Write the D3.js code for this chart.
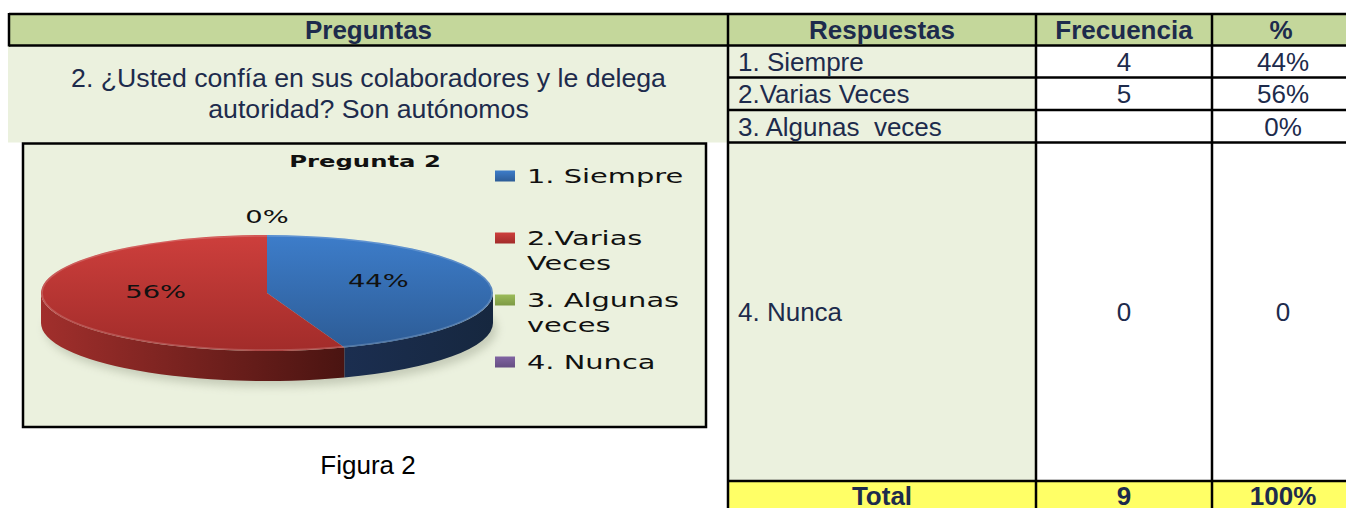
<!DOCTYPE html>
<html lang="es">
<head>
    <meta charset="UTF-8">
    <title>Pregunta 2</title>
    <script src="https://d3js.org/d3.v7.min.js"></script>
    <style>
        body { margin: 0; padding: 0; background: #fff; }
        svg { display: block; }
        .tbl { font-family: "Liberation Sans", Arial, sans-serif; font-size: 26px; fill: #1d2b4c; white-space: pre; }
        .bold { font-weight: bold; }
        .chart-text { font-family: "DejaVu Sans", Verdana, sans-serif; fill: #111; }
    </style>
</head>
<body>
    <div id="chart"></div>

    <script>
        // ---- data ----
        const preguntaLines = ["2. ¿Usted confía en sus colaboradores y le delega", "autoridad? Son autónomos"];
        const headers = ["Respuestas", "Frecuencia", "%"];
        const respuestas = ["1. Siempre", "2.Varias Veces", "3. Algunas  veces", "4. Nunca"];
        const frecuencia = ["4", "5", "", "0"];
        const porcentaje = ["44%", "56%", "0%", "0"];
        const totalRow = ["Total", "9", "100%"];
        const pieValues = [4, 5, 0, 0];
        const legendLabels = [["1. Siempre"], ["2.Varias", "Veces"], ["3. Algunas", "veces"], ["4. Nunca"]];
        const chartTitle = "Pregunta 2";
        const figureCaption = "Figura 2";

        // colours
        const topColors = [["#3d7dca", "#2d5c96"], ["#cd3f3c", "#a22c2a"], ["#9bbb59", "#7d9a44"], ["#8064a2", "#654e82"]];
        const sideColors = [["#1b2e50", "#16273f"], ["#a12f2c", "#4a1411"], ["#6f8a3c", "#56702c"], ["#5a4676", "#45365c"]];

        const W = 1346, H = 508;
        const lw = 2.5;

        const svg = d3.select("#chart").append("svg")
            .attr("width", W)
            .attr("height", H);
        const defs = svg.append("defs");

        // ---- table layout ----
        const colEdges = [728, 1036, 1212, 1350];
        const rowEdges = [14, 45.5, 77.5, 110, 142.5, 481, 512];
        const leftX = 9;
        const colMid = i => (colEdges[i] + colEdges[i + 1]) / 2;
        const rowMid = i => (rowEdges[i] + rowEdges[i + 1]) / 2;

        // backgrounds
        svg.append("rect").attr("x", leftX).attr("y", rowEdges[0])
            .attr("width", W - leftX).attr("height", rowEdges[1] - rowEdges[0]).attr("fill", "#c4d79b");
        svg.append("rect").attr("x", 8).attr("y", rowEdges[1])
            .attr("width", colEdges[0] - 8).attr("height", rowEdges[4] - rowEdges[1]).attr("fill", "#ebf1de");
        svg.append("rect").attr("x", colEdges[0]).attr("y", rowEdges[1])
            .attr("width", colEdges[1] - colEdges[0]).attr("height", rowEdges[5] - rowEdges[1]).attr("fill", "#ebf1de");
        svg.append("rect").attr("x", colEdges[0]).attr("y", rowEdges[5])
            .attr("width", W - colEdges[0]).attr("height", H - rowEdges[5]).attr("fill", "#ffff66");

        // grid lines
        const lines = svg.append("g").attr("stroke", "#000").attr("stroke-width", lw);
        lines.append("line").attr("x1", leftX).attr("x2", W).attr("y1", rowEdges[0]).attr("y2", rowEdges[0]);
        lines.append("line").attr("x1", leftX).attr("x2", W).attr("y1", rowEdges[1]).attr("y2", rowEdges[1]);
        lines.append("line").attr("x1", leftX).attr("x2", leftX).attr("y1", rowEdges[0] - 1).attr("y2", rowEdges[1] + 1);
        [2, 3, 4, 5].forEach(r => {
            lines.append("line").attr("x1", colEdges[0]).attr("x2", W)
                .attr("y1", rowEdges[r]).attr("y2", rowEdges[r]);
        });
        [0, 1, 2].forEach(c => {
            lines.append("line").attr("x1", colEdges[c]).attr("x2", colEdges[c])
                .attr("y1", rowEdges[0] - 1).attr("y2", H);
        });

        // header texts
        svg.append("text").attr("class", "tbl bold")
            .attr("x", (leftX + colEdges[0]) / 2).attr("y", rowMid(0) + 9.5)
            .attr("text-anchor", "middle").text("Preguntas");
        headers.forEach((h, i) => {
            svg.append("text").attr("class", "tbl bold")
                .attr("x", colMid(i)).attr("y", rowMid(0) + 9.5)
                .attr("text-anchor", "middle").text(h);
        });

        // question
        preguntaLines.forEach((t, i) => {
            svg.append("text").attr("class", "tbl")
                .style("font-size", "26.7px")
                .attr("x", (leftX + colEdges[0]) / 2).attr("y", 87 + i * 31)
                .attr("text-anchor", "middle").text(t);
        });

        // body rows
        respuestas.forEach((r, i) => {
            const y = rowMid(i + 1) + 9.5;
            svg.append("text").attr("class", "tbl").attr("x", colEdges[0] + 10).attr("y", y).text(r);
            svg.append("text").attr("class", "tbl").attr("x", colMid(1)).attr("y", y)
                .attr("text-anchor", "middle").text(frecuencia[i]);
            svg.append("text").attr("class", "tbl").attr("x", colMid(2) + 2).attr("y", y)
                .attr("text-anchor", "middle").text(porcentaje[i]);
        });

        // total row (cut by the bottom edge, as in the original)
        totalRow.forEach((t, i) => {
            svg.append("text").attr("class", "tbl bold")
                .attr("x", colMid(i) + (i === 2 ? 2 : 0)).attr("y", 505)
                .attr("text-anchor", "middle").text(t);
        });

        // caption
        svg.append("text").attr("class", "tbl").style("fill", "#000")
            .attr("x", 368).attr("y", 474).attr("text-anchor", "middle").text(figureCaption);

        // ---- chart box ----
        const box = { x: 23, y: 143.5, w: 683, h: 283.5 };
        svg.append("rect").attr("x", box.x).attr("y", box.y).attr("width", box.w).attr("height", box.h)
            .attr("fill", "#ebf1de").attr("stroke", "#000").attr("stroke-width", lw);

        const sx = 1.52; // the chart picture is stretched horizontally

        const stretchedText = (g, x, y, txt, size, weight) => g.append("text")
            .attr("class", "chart-text")
            .attr("transform", `translate(${x},${y}) scale(${sx},1)`)
            .attr("font-size", size)
            .attr("font-weight", weight || "normal")
            .attr("text-anchor", "middle")
            .text(txt);

        stretchedText(svg, 365, 167, chartTitle, 16, "bold");

        // ---- 3D pie ----
        const cx = 267, cy = 293, rx = 226, ry = 58, depth = 30;
        const total = d3.sum(pieValues);
        const arcs = d3.pie().sort(null).value(d => d)(pieValues);
        const pt = (a, dy = 0) => [cx + rx * Math.sin(a), cy - ry * Math.cos(a) + dy];

        // shadow
        const shadow = defs.append("filter").attr("id", "blur").attr("x", "-20%").attr("y", "-50%")
            .attr("width", "140%").attr("height", "200%");
        shadow.append("feGaussianBlur").attr("stdDeviation", 4);
        svg.append("ellipse").attr("cx", cx + 4).attr("cy", cy + depth + 6).attr("rx", rx).attr("ry", ry)
            .attr("fill", "#9aa08c").attr("opacity", 0.45).attr("filter", "url(#blur)");

        arcs.forEach((d, i) => {
            const gt = defs.append("linearGradient").attr("id", "top" + i)
                .attr("x1", 0).attr("y1", 0).attr("x2", 0).attr("y2", 1);
            gt.append("stop").attr("offset", "0%").attr("stop-color", topColors[i][0]);
            gt.append("stop").attr("offset", "100%").attr("stop-color", topColors[i][1]);
            const gs = defs.append("linearGradient").attr("id", "side" + i)
                .attr("x1", 0).attr("y1", 0).attr("x2", 1).attr("y2", 0);
            gs.append("stop").attr("offset", "0%").attr("stop-color", sideColors[i][0]);
            gs.append("stop").attr("offset", "100%").attr("stop-color", sideColors[i][1]);
        });

        // side walls (front half only)
        arcs.forEach((d, i) => {
            const s0 = Math.max(d.startAngle, Math.PI / 2);
            const s1 = Math.min(d.endAngle, 3 * Math.PI / 2);
            if (s1 <= s0) return;
            const a = pt(s0), b = pt(s1), bb = pt(s1, depth), ab = pt(s0, depth);
            const s = `M${a[0]},${a[1]} A${rx},${ry} 0 0 1 ${b[0]},${b[1]} L${bb[0]},${bb[1]} A${rx},${ry} 0 0 0 ${ab[0]},${ab[1]} Z`;
            svg.append("path").attr("d", s).attr("fill", `url(#side${i})`);
        });

        // top faces
        arcs.forEach((d, i) => {
            if (d.endAngle - d.startAngle <= 0) return;
            const a = pt(d.startAngle), b = pt(d.endAngle);
            const large = d.endAngle - d.startAngle > Math.PI ? 1 : 0;
            const s = `M${cx},${cy} L${a[0]},${a[1]} A${rx},${ry} 0 ${large} 1 ${b[0]},${b[1]} Z`;
            svg.append("path").attr("d", s).attr("fill", `url(#top${i})`);
        });
        svg.append("ellipse").attr("cx", cx).attr("cy", cy).attr("rx", rx - 1).attr("ry", ry - 1)
            .attr("fill", "none").attr("stroke", "#fff").attr("stroke-opacity", 0.18).attr("stroke-width", 1.5);

        // data labels
        const seen = new Set();
        arcs.forEach(d => {
            const mid = (d.startAngle + d.endAngle) / 2;
            const k = d.value > 0 ? 0.5 : 1.2;
            const x = cx + rx * k * Math.sin(mid);
            const y = cy - ry * k * Math.cos(mid) - 0.5;
            const key = Math.round(x) + "," + Math.round(y);
            if (seen.has(key)) return;
            seen.add(key);
            stretchedText(svg, x, y, Math.round(d.value / total * 100) + "%", 18);
        });

        // ---- legend ----
        const legendY = d3.scalePoint().domain(d3.range(pieValues.length)).range([176, 362]);
        legendLabels.forEach((lines, i) => {
            const y = legendY(i);
            const gl = defs.append("linearGradient").attr("id", "leg" + i)
                .attr("x1", 0).attr("y1", 0).attr("x2", 0).attr("y2", 1);
            gl.append("stop").attr("offset", "0%").attr("stop-color", topColors[i][0]);
            gl.append("stop").attr("offset", "100%").attr("stop-color", topColors[i][1]);
            svg.append("rect").attr("x", 495).attr("y", y - 5.5).attr("width", 20).attr("height", 11)
                .attr("fill", `url(#leg${i})`);
            lines.forEach((t, j) => {
                svg.append("text").attr("class", "chart-text")
                    .attr("transform", `translate(527,${y + 7 + j * 24.5}) scale(${sx},1)`)
                    .attr("font-size", 19)
                    .text(t);
            });
        });
    </script>
</body>
</html>
